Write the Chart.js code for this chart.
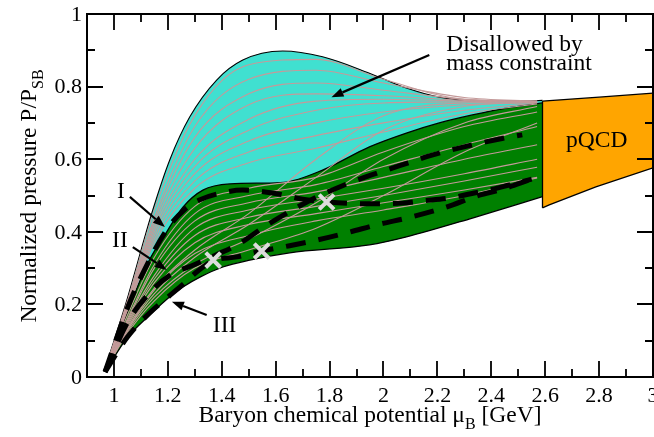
<!DOCTYPE html>
<html><head><meta charset="utf-8">
<script src="https://cdn.jsdelivr.net/npm/chart.js@4.4.1/dist/chart.umd.min.js"></script>
<style>html,body{margin:0;padding:0;background:#fff;overflow:hidden}#wrap{width:654px;height:437px;position:relative}</style>
</head><body><div id="wrap"><canvas id="c" width="654" height="437"></canvas></div>
<script>
// ---------------- data ----------------
const xTickValues = [1.0, 1.2, 1.4, 1.6, 1.8, 2.0, 2.2, 2.4, 2.6, 2.8, 3.0];
const xTickLabels = ['1', '1.2', '1.4', '1.6', '1.8', '2', '2.2', '2.4', '2.6', '2.8', '3'];
const xMinorValues = [1.1, 1.3, 1.5, 1.7, 1.9, 2.1, 2.3, 2.5, 2.7, 2.9];
const yTickValues = [0, 0.2, 0.4, 0.6, 0.8, 1.0];
const yTickLabels = ['0', '0.2', '0.4', '0.6', '0.8', '1'];
const yMinorValues = [0.1, 0.3, 0.5, 0.7, 0.9];

// disallowed (cyan) region upper boundary
const cyanTopX = [0.963, 1.041, 1.144, 1.207, 1.281, 1.381, 1.478, 1.626, 1.774, 1.948, 2.085, 2.207, 2.356, 2.504, 2.59];
const cyanTopY = [0.015, 0.195, 0.46, 0.598, 0.716, 0.818, 0.873, 0.898, 0.882, 0.837, 0.796, 0.771, 0.760, 0.760, 0.762];
// allowed (green) region
const greenTopX = [0.967, 1.05, 1.13, 1.196, 1.256, 1.33, 1.43, 1.55, 1.63, 1.774, 1.948, 2.085, 2.207, 2.33, 2.456, 2.59];
const greenTopY = [0.014, 0.18, 0.32, 0.40, 0.468, 0.515, 0.532, 0.534, 0.536, 0.570, 0.634, 0.672, 0.700, 0.722, 0.741, 0.755];
const greenBotX = [0.967, 1.048, 1.133, 1.215, 1.256, 1.319, 1.404, 1.504, 1.652, 1.948, 2.085, 2.33, 2.59];
const greenBotY = [0.014, 0.107, 0.171, 0.226, 0.248, 0.275, 0.303, 0.322, 0.342, 0.364, 0.386, 0.438, 0.497];
// pQCD band
const pqcdTopX = [2.59, 2.8, 3.0];
const pqcdTopY = [0.760, 0.771, 0.782];
const pqcdBotX = [2.59, 2.615, 2.788, 3.0];
const pqcdBotY = [0.466, 0.474, 0.524, 0.576];

// thick dashed example curves I, II, III
const curveIX = [0.967, 1.05, 1.13, 1.2, 1.26, 1.319, 1.419, 1.478, 1.589, 1.70, 1.793, 1.959, 2.07, 2.144, 2.244, 2.337, 2.411, 2.467, 2.55];
const curveIY = [0.014, 0.19, 0.32, 0.41, 0.46, 0.488, 0.510, 0.515, 0.507, 0.490, 0.482, 0.477, 0.479, 0.485, 0.493, 0.507, 0.518, 0.529, 0.545];
const curveIIX = [0.967, 1.05, 1.13, 1.207, 1.30, 1.374, 1.467, 1.55, 1.65, 1.75, 1.848, 1.937, 2.06, 2.18, 2.31, 2.44, 2.515];
const curveIIY = [0.014, 0.15, 0.23, 0.28, 0.31, 0.335, 0.368, 0.41, 0.455, 0.495, 0.527, 0.552, 0.582, 0.611, 0.636, 0.657, 0.667];
const curveIIIX = [0.967, 1.05, 1.13, 1.2, 1.256, 1.30, 1.368, 1.456, 1.548, 1.626, 1.752, 1.874, 1.974, 2.104, 2.233, 2.356, 2.43, 2.55];
const curveIIIY = [0.014, 0.11, 0.175, 0.22, 0.255, 0.285, 0.320, 0.331, 0.347, 0.358, 0.377, 0.399, 0.419, 0.441, 0.468, 0.501, 0.515, 0.545];
// cross markers
const markX = [1.368, 1.548, 1.789];
const markY = [0.322, 0.347, 0.482];

// thin individual EoS curves (sampled at thinX)
const thinX = [0.965, 1.05, 1.15, 1.3, 1.5, 1.75, 2.0, 2.3, 2.57];
const thinCurvesY = [
  [0.015, 0.21, 0.46, 0.72, 0.86, 0.875, 0.82, 0.765, 0.76],
  [0.015, 0.205, 0.44, 0.69, 0.82, 0.845, 0.81, 0.77, 0.76],
  [0.015, 0.20, 0.43, 0.66, 0.78, 0.81, 0.79, 0.765, 0.758],
  [0.015, 0.20, 0.42, 0.63, 0.75, 0.78, 0.775, 0.762, 0.758],
  [0.015, 0.195, 0.41, 0.60, 0.71, 0.76, 0.765, 0.76, 0.758],
  [0.015, 0.19, 0.40, 0.58, 0.68, 0.735, 0.755, 0.758, 0.757],
  [0.015, 0.19, 0.39, 0.56, 0.65, 0.70, 0.73, 0.75, 0.756],
  [0.015, 0.185, 0.38, 0.54, 0.62, 0.665, 0.70, 0.735, 0.755],
  [0.015, 0.185, 0.37, 0.52, 0.59, 0.63, 0.675, 0.725, 0.752],
  [0.015, 0.17, 0.33, 0.47, 0.52, 0.55, 0.62, 0.69, 0.73],
  [0.015, 0.16, 0.31, 0.45, 0.50, 0.53, 0.58, 0.64, 0.69],
  [0.015, 0.155, 0.30, 0.43, 0.48, 0.51, 0.55, 0.60, 0.64],
  [0.015, 0.15, 0.28, 0.41, 0.46, 0.49, 0.52, 0.56, 0.60],
  [0.015, 0.145, 0.27, 0.39, 0.44, 0.47, 0.50, 0.54, 0.578],
  [0.015, 0.14, 0.26, 0.37, 0.42, 0.45, 0.48, 0.515, 0.55],
  [0.015, 0.13, 0.23, 0.33, 0.42, 0.55, 0.68, 0.745, 0.757],
  [0.015, 0.135, 0.245, 0.35, 0.45, 0.60, 0.72, 0.755, 0.758],
  [0.015, 0.125, 0.22, 0.31, 0.38, 0.48, 0.60, 0.70, 0.745],
  [0.015, 0.12, 0.21, 0.30, 0.35, 0.41, 0.50, 0.62, 0.70],
  [0.015, 0.13, 0.24, 0.34, 0.39, 0.43, 0.46, 0.50, 0.548]
];

// annotations (data coordinates)
const labelTexts = ['I', 'II', 'III'];
const labelX = [1.011, 0.993, 1.367];
const labelY = [0.493, 0.359, 0.125];
const arrowFrom = [[1.059, 0.496], [1.070, 0.358], [1.344, 0.171], [2.170, 0.887]];
const arrowTo = [[1.189, 0.413], [1.196, 0.295], [1.215, 0.207], [1.807, 0.771]];
const noteLines = ['Disallowed by', 'mass constraint'];
const noteX = 2.233;
const noteY = [0.897, 0.846];
const pqcdLabel = 'pQCD';
const pqcdLabelX = 2.791, pqcdLabelY = 0.634;

// ---------------- build ----------------
const pts = (xs, ys) => xs.map((v, i) => ({x: v, y: ys[i]}));
const SERIF = '"Liberation Serif", "Times New Roman", serif';
const datasets = [];
const add = d => { datasets.push(Object.assign({pointRadius: 0, pointHoverRadius: 0, fill: false, borderWidth: 1, tension: 0}, d)); return datasets.length - 1; };

add({data: pts(markX, markY), showLine: false, pointStyle: 'crossRot', pointRadius: 10.5, pointBorderWidth: 4, pointBorderColor: '#dcdcdc', pointBackgroundColor: '#dcdcdc', borderColor: '#dcdcdc'});
[[curveIX, curveIY], [curveIIX, curveIIY], [curveIIIX, curveIIIY]].forEach(c =>
  add({data: pts(c[0], c[1]), borderColor: '#000', borderWidth: 5, borderDash: [20, 13], borderCapStyle: 'butt', cubicInterpolationMode: 'monotone'}));
thinCurvesY.forEach(ys => add({data: pts(thinX, ys), borderColor: '#c49a9a', borderWidth: 1.1, cubicInterpolationMode: 'monotone'}));
add({data: [{x: 2.59, y: pqcdBotY[0]}, {x: 2.59, y: pqcdTopY[0]}], borderColor: '#000', borderWidth: 1.3});
const iGB = add({data: pts(greenBotX, greenBotY), borderColor: '#000', borderWidth: 1.3, cubicInterpolationMode: 'monotone'});
add({data: pts(greenTopX, greenTopY), borderColor: '#000', borderWidth: 1.3, cubicInterpolationMode: 'monotone', fill: {target: iGB}, backgroundColor: '#008000'});
add({data: pts(cyanTopX, cyanTopY), borderColor: '#000', borderWidth: 1.1, cubicInterpolationMode: 'monotone', fill: {target: iGB}, backgroundColor: '#40e0d0'});
const iPB = add({data: pts(pqcdBotX, pqcdBotY), borderColor: '#000', borderWidth: 1.3});
add({data: pts(pqcdTopX, pqcdTopY), borderColor: '#000', borderWidth: 1.3, fill: {target: iPB}, backgroundColor: '#ffa500'});

function arrow(ctx, x1, y1, x2, y2) {
  const ang = Math.atan2(y2 - y1, x2 - x1), L = 12, W = 4.5;
  const bx = x2 - L * Math.cos(ang), by = y2 - L * Math.sin(ang);
  ctx.beginPath(); ctx.moveTo(x1, y1); ctx.lineTo(bx, by); ctx.lineWidth = 2.2; ctx.stroke();
  ctx.beginPath(); ctx.moveTo(x2, y2);
  ctx.lineTo(bx + W * Math.sin(ang), by - W * Math.cos(ang));
  ctx.lineTo(bx - W * Math.sin(ang), by + W * Math.cos(ang));
  ctx.closePath(); ctx.fill();
}
function richText(ctx, parts, x, y) {
  let cx = x;
  parts.forEach(p => { ctx.font = p.size + 'px ' + SERIF; ctx.fillText(p.t, cx, y + p.dy); cx += ctx.measureText(p.t).width; });
  return cx - x;
}
function richWidth(ctx, parts) {
  let w = 0; parts.forEach(p => { ctx.font = p.size + 'px ' + SERIF; w += ctx.measureText(p.t).width; }); return w;
}

const deco = {
  id: 'deco',
  afterDatasetsDraw(chart) {
    const {ctx, chartArea: a} = chart; const X = chart.scales.x, Y = chart.scales.y;
    ctx.save();
    ctx.strokeStyle = '#000'; ctx.fillStyle = '#000'; ctx.lineCap = 'butt';
    // ticks (inward, all four sides)
    ctx.lineWidth = 1.8; ctx.beginPath();
    const tx = (v, len) => { const p = Math.round(X.getPixelForValue(v)); ctx.moveTo(p, a.bottom); ctx.lineTo(p, a.bottom - len); ctx.moveTo(p, a.top); ctx.lineTo(p, a.top + len); };
    const ty = (v, len) => { const p = Math.round(Y.getPixelForValue(v)); ctx.moveTo(a.left, p); ctx.lineTo(a.left + len, p); ctx.moveTo(a.right, p); ctx.lineTo(a.right - len, p); };
    xTickValues.forEach(v => tx(v, 16)); xMinorValues.forEach(v => tx(v, 8));
    yTickValues.forEach(v => ty(v, 16)); yMinorValues.forEach(v => ty(v, 8));
    ctx.stroke();
    // frame
    ctx.lineWidth = 2; ctx.strokeRect(a.left, a.top, a.right - a.left, a.bottom - a.top);
    // tick labels
    ctx.font = '22px ' + SERIF;
    ctx.textAlign = 'center'; ctx.textBaseline = 'alphabetic';
    xTickValues.forEach((v, i) => ctx.fillText(xTickLabels[i], X.getPixelForValue(v), 402));
    ctx.textAlign = 'right'; ctx.textBaseline = 'middle';
    yTickValues.forEach((v, i) => ctx.fillText(yTickLabels[i], 82, Y.getPixelForValue(v) + 1));
    // axis titles
    ctx.textAlign = 'left'; ctx.textBaseline = 'alphabetic';
    const xt = [{t: 'Baryon chemical potential \u03bc', size: 23.5, dy: 0}, {t: 'B', size: 16, dy: 7}, {t: ' [GeV]', size: 23.5, dy: 0}];
    richText(ctx, xt, 370 - richWidth(ctx, xt) / 2, 421.5);
    const yt = [{t: 'Normalized pressure P/P', size: 23.5, dy: 0}, {t: 'SB', size: 16, dy: 7}];
    ctx.save(); ctx.translate(36, 196); ctx.rotate(-Math.PI / 2);
    richText(ctx, yt, -richWidth(ctx, yt) / 2, 0); ctx.restore();
    // annotations
    ctx.font = '23.5px ' + SERIF; ctx.textAlign = 'left';
    labelTexts.forEach((t, i) => ctx.fillText(t, X.getPixelForValue(labelX[i]), Y.getPixelForValue(labelY[i])));
    noteLines.forEach((t, i) => ctx.fillText(t, X.getPixelForValue(noteX), Y.getPixelForValue(noteY[i])));
    ctx.textAlign = 'center';
    ctx.fillText(pqcdLabel, X.getPixelForValue(pqcdLabelX), Y.getPixelForValue(pqcdLabelY));
    arrowFrom.forEach((f, i) => arrow(ctx, X.getPixelForValue(f[0]), Y.getPixelForValue(f[1]), X.getPixelForValue(arrowTo[i][0]), Y.getPixelForValue(arrowTo[i][1])));
    ctx.restore();
  }
};

new Chart(document.getElementById('c'), {
  type: 'line',
  data: {datasets},
  options: {
    responsive: false, animation: false, devicePixelRatio: 1,
    layout: {autoPadding: false, padding: {left: 87, right: 1, top: 14, bottom: 60}},
    parsing: true, normalized: true,
    plugins: {legend: {display: false}, tooltip: {enabled: false}, filler: {propagate: false}},
    elements: {line: {borderJoinStyle: 'round'}},
    scales: {
      x: {type: 'linear', min: 0.9, max: 3.0, display: false},
      y: {type: 'linear', min: 0, max: 1.0, display: false}
    }
  },
  plugins: [deco]
});
</script></body></html>
